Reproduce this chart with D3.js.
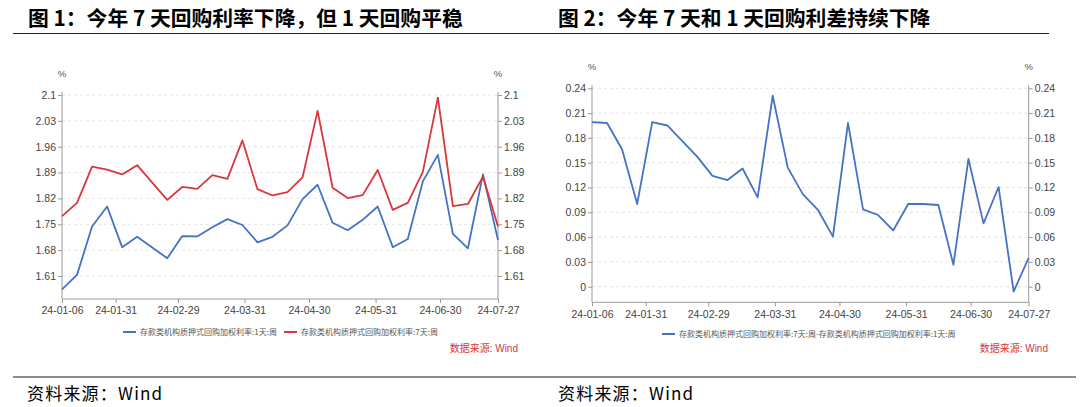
<!DOCTYPE html>
<html><head><meta charset="utf-8">
<script src="https://cdn.jsdelivr.net/npm/d3@7"></script>
<style>body{margin:0;background:#fff}svg{display:block}</style>
</head><body>
<svg id="c" width="1080" height="407"></svg>
<script>
// ---- data ----
const dates = ["2024-01-06","2024-01-13","2024-01-20","2024-01-27","2024-02-03","2024-02-10","2024-02-17","2024-02-24",
  "2024-03-02","2024-03-09","2024-03-16","2024-03-23","2024-03-30","2024-04-06","2024-04-13","2024-04-20","2024-04-27",
  "2024-05-04","2024-05-11","2024-05-18","2024-05-25","2024-06-01","2024-06-08","2024-06-15","2024-06-22","2024-06-29",
  "2024-07-06","2024-07-13","2024-07-20","2024-07-27"];
const rate1d = [1.574,1.613,1.744,1.798,1.688,1.716,1.687,1.658,1.718,1.717,1.742,1.764,1.748,1.701,1.716,1.747,
  1.818,1.857,1.754,1.734,1.762,1.798,1.688,1.710,1.866,1.938,1.724,1.685,1.885,1.707];
const rate7d = [1.772,1.808,1.906,1.898,1.885,1.910,1.863,1.816,1.851,1.846,1.883,1.873,1.977,1.845,1.828,1.837,
  1.877,2.057,1.849,1.821,1.829,1.897,1.789,1.808,1.892,2.093,1.799,1.805,1.879,1.744];
const spread = [0.199,0.198,0.166,0.100,0.199,0.195,0.176,0.157,0.134,0.129,0.143,0.108,0.231,0.144,0.112,0.093,
  0.0605,0.198,0.0936,0.0867,0.068,0.100,0.100,0.0988,0.0266,0.1545,0.0766,0.1206,-0.006,0.035];
const xTickDates = ["2024-01-06","2024-01-31","2024-02-29","2024-03-31","2024-04-30","2024-05-31","2024-06-30","2024-07-27"];
const yTicks1 = [1.61,1.68,1.75,1.82,1.89,1.96,2.03,2.1];
const yTicks2 = [0,0.03,0.06,0.09,0.12,0.15,0.18,0.21,0.24];
const legend1 = ["存款类机构质押式回购加权利率:1天:周","存款类机构质押式回购加权利率:7天:周"];
const legend2 = ["存款类机构质押式回购加权利率:7天:周-存款类机构质押式回购加权利率:1天:周"];
const title1 = "图 1：今年 7 天回购利率下降，但 1 天回购平稳";
const title2 = "图 2：今年 7 天和 1 天回购利差持续下降";
const sourceText = "资料来源：Wind";
const dataSource = "数据来源: Wind";

const BLUE = "#4672c4", RED = "#d8373d";
const parse = d3.timeParse("%Y-%m-%d");
const fmtX = d3.timeFormat("%y-%m-%d");
const svg = d3.select("#c");
svg.append("rect").attr("width",1080).attr("height",407).attr("fill","#fff");

const TICKFONT = "'Liberation Sans Narrow','Liberation Sans',Arial,sans-serif";
const CJK = "'Noto Sans CJK SC','Noto Sans',sans-serif";

function chart(o){
  const g = svg.append("g");
  const x = d3.scaleTime().domain([parse(dates[0]), parse(dates[dates.length-1])]).range([o.x0, o.x1]);
  const y = d3.scaleLinear().domain(o.ydom).range([o.yb, o.yt]);
  g.append("g").selectAll("line").data(o.yticks).join("line")
    .attr("x1", o.x0).attr("x2", o.x1).attr("y1", d=>y(d)).attr("y2", d=>y(d))
    .attr("stroke","#dcdcdc").attr("stroke-dasharray","3,3").attr("stroke-width",0.8);
  const styleAxis = sel => {
    sel.select(".domain").remove();
    sel.selectAll(".tick line").attr("stroke","#9a9a9a");
    sel.selectAll(".tick text").attr("fill","#444").style("font-family",TICKFONT).style("font-size","10.5px");
  };
  const yl = d3.axisLeft(y).tickValues(o.yticks).tickSize(4).tickPadding(2).tickFormat(d=>String(d));
  const yr = d3.axisRight(y).tickValues(o.yticks).tickSize(4).tickPadding(2).tickFormat(d=>String(d));
  g.append("g").attr("transform",`translate(${o.x0},0)`).call(yl).call(styleAxis);
  g.append("g").attr("transform",`translate(${o.x1},0)`).call(yr).call(styleAxis);
  const xa = d3.axisBottom(x).tickValues(xTickDates.map(parse)).tickSize(4).tickPadding(4).tickFormat(fmtX);
  g.append("g").attr("transform",`translate(0,${o.yb})`).call(xa).call(styleAxis);
  const ac = "#9a9a9a";
  g.append("line").attr("x1",o.x0).attr("x2",o.x0).attr("y1",o.yt-3).attr("y2",o.yb).attr("stroke",ac);
  g.append("line").attr("x1",o.x1).attr("x2",o.x1).attr("y1",o.yt-3).attr("y2",o.yb).attr("stroke",ac);
  g.append("line").attr("x1",o.x0).attr("x2",o.x1).attr("y1",o.yb).attr("y2",o.yb).attr("stroke",ac);
  [o.x0,o.x1].forEach(px=>g.append("text").attr("x",px).attr("y",o.yt-18).attr("text-anchor","middle")
    .attr("fill","#555").style("font-family",TICKFONT).style("font-size","9.5px").text("%"));
  const line = d3.line().x((d,i)=>x(parse(dates[i]))).y(d=>y(d));
  o.series.forEach(s=>{
    g.append("path").datum(s.values).attr("d",line).attr("fill","none")
      .attr("stroke",s.color).attr("stroke-width",1.8).attr("stroke-linejoin","round");
  });
  o.legend.forEach(l=>{
    g.append("line").attr("x1",l.x).attr("x2",l.x+13).attr("y1",o.ly).attr("y2",o.ly)
      .attr("stroke",l.color).attr("stroke-width",2);
    g.append("text").attr("x",l.x+17).attr("y",o.ly+3).attr("fill","#555")
      .style("font-family",CJK).style("font-size","8px").text(l.text);
  });
  g.append("text").attr("x",o.dsx).attr("y",352).attr("text-anchor","end").attr("fill","#d0393d")
    .style("font-family","'Liberation Sans',"+CJK).style("font-size","10px").text(dataSource);
}

chart({x0:62, x1:498, yt:95, yb:299, ydom:[1.5477,2.1], yticks:yTicks1,
  series:[{values:rate1d,color:BLUE},{values:rate7d,color:RED}],
  legend:[{x:123,color:BLUE,text:legend1[0]},{x:284,color:RED,text:legend1[1]}], ly:332, dsx:518});
chart({x0:592, x1:1028.7, yt:88.3, yb:302.3, ydom:[-0.0189,0.24], yticks:yTicks2,
  series:[{values:spread,color:BLUE}],
  legend:[{x:662,color:BLUE,text:legend2[0]}], ly:334, dsx:1048});

svg.append("text").attr("x",28).attr("y",26).attr("fill","#000").style("font-family",CJK)
  .style("font-weight","700").style("font-size","20.8px").text(title1);
svg.append("text").attr("x",558).attr("y",26).attr("fill","#000").style("font-family",CJK)
  .style("font-weight","700").style("font-size","20.8px").text(title2);
svg.append("line").attr("x1",13).attr("x2",1049).attr("y1",33.5).attr("y2",33.5).attr("stroke","#222").attr("stroke-width",1.2);
svg.append("line").attr("x1",13).attr("x2",1076).attr("y1",377).attr("y2",377).attr("stroke","#666").attr("stroke-width",1.5);
svg.append("text").attr("x",27).attr("y",400).attr("fill","#000").style("font-family",CJK).style("font-size","17px")
  .style("letter-spacing","1.2px").text(sourceText);
svg.append("text").attr("x",558).attr("y",400).attr("fill","#000").style("font-family",CJK).style("font-size","17px")
  .style("letter-spacing","1.2px").text(sourceText);
</script>
</body></html>
